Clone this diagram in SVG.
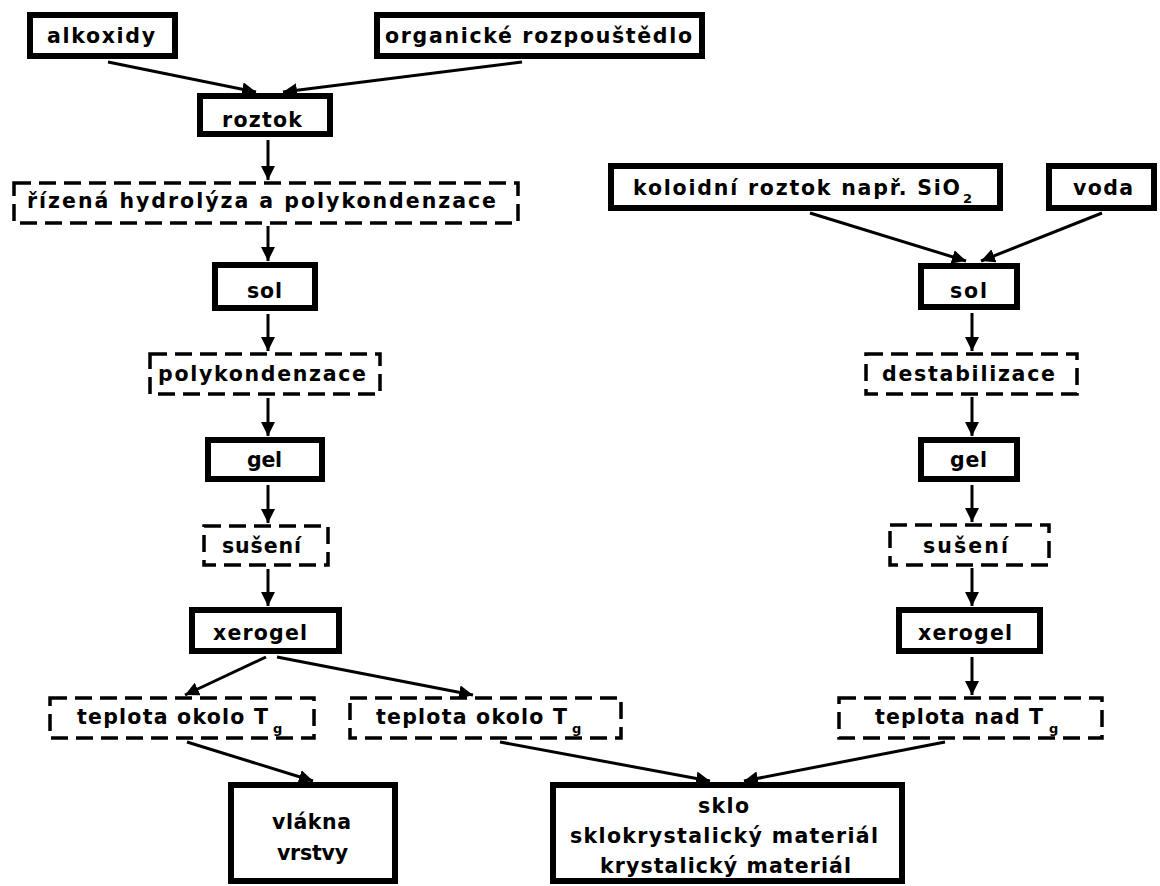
<svg xmlns="http://www.w3.org/2000/svg" width="1160" height="886" viewBox="0 0 1160 886">
<style>
.box{fill:#fff;stroke:#000;stroke-width:6}
.dbox{fill:#fff;stroke:#000;stroke-width:3.5;stroke-dasharray:17 8}
.t{font-family:"DejaVu Sans",sans-serif;font-size:20.5px;font-weight:bold;fill:#000}
.sub{font-size:13px}
.c{stroke:#000;stroke-width:3;fill:none;marker-end:url(#ah)}
</style>
<defs>
<marker id="ah" markerUnits="userSpaceOnUse" markerWidth="14" markerHeight="14" viewBox="0 0 12 12" refX="12" refY="6" orient="auto"><path d="M0,0 L12,6 L0,12 z" fill="#000"/></marker>
</defs>
<rect width="1160" height="886" fill="#fff"/>
<g id="connectors">
<line class="c" x1="108" y1="62" x2="256" y2="92"/>
<line class="c" x1="522" y1="62" x2="283" y2="92"/>
<line class="c" x1="268" y1="140" x2="268" y2="180"/>
<line class="c" x1="268" y1="226" x2="268" y2="261"/>
<line class="c" x1="268" y1="314" x2="268" y2="351"/>
<line class="c" x1="268" y1="398" x2="268" y2="436"/>
<line class="c" x1="268" y1="485" x2="268" y2="523"/>
<line class="c" x1="268" y1="569" x2="268" y2="606"/>
<line class="c" x1="266" y1="657" x2="185" y2="695"/>
<line class="c" x1="277" y1="657" x2="473" y2="695"/>
<line class="c" x1="187" y1="742" x2="313" y2="781"/>
<line class="c" x1="500" y1="742" x2="710" y2="781"/>
<line class="c" x1="945" y1="742" x2="744" y2="781"/>
<line class="c" x1="810" y1="213" x2="966" y2="261"/>
<line class="c" x1="1102" y1="213" x2="981" y2="261"/>
<line class="c" x1="972" y1="313" x2="972" y2="351"/>
<line class="c" x1="972" y1="397" x2="972" y2="436"/>
<line class="c" x1="972" y1="485" x2="972" y2="522"/>
<line class="c" x1="972" y1="568" x2="972" y2="606"/>
<line class="c" x1="972" y1="657" x2="972" y2="695"/>
</g>
<g id="alkoxidy"><rect class="box" x="30" y="15" width="145" height="41"/><text class="t" x="47" y="43" textLength="108" lengthAdjust="spacing">alkoxidy</text></g>
<g id="organicke"><rect class="box" x="377" y="15" width="325" height="41"/><text class="t" x="385" y="43" textLength="307" lengthAdjust="spacing">organické rozpouštědlo</text></g>
<g id="roztok"><rect class="box" x="200" y="96" width="130" height="38"/><text class="t" x="222" y="127" textLength="80" lengthAdjust="spacing">roztok</text></g>
<g id="hydrolyza"><rect class="dbox" x="14" y="183" width="504" height="40"/><text class="t" x="27" y="208" textLength="469" lengthAdjust="spacing">řízená hydrolýza a polykondenzace</text></g>
<g id="sol-l"><rect class="box" x="215" y="265" width="100" height="43"/><text class="t" x="247" y="298" textLength="35" lengthAdjust="spacing">sol</text></g>
<g id="polykondenzace"><rect class="dbox" x="150" y="354" width="230" height="40"/><text class="t" x="158" y="381" textLength="208" lengthAdjust="spacing">polykondenzace</text></g>
<g id="gel-l"><rect class="box" x="208" y="440" width="114" height="39"/><text class="t" x="247" y="467" textLength="35" lengthAdjust="spacing">gel</text></g>
<g id="suseni-l"><rect class="dbox" x="204" y="526" width="124" height="39"/><text class="t" x="222" y="553" textLength="79" lengthAdjust="spacing">sušení</text></g>
<g id="xerogel-l"><rect class="box" x="192" y="610" width="147" height="41"/><text class="t" x="213" y="640" textLength="94" lengthAdjust="spacing">xerogel</text></g>
<g id="teplota-l"><rect class="dbox" x="50" y="698" width="264" height="40"/><text class="t" x="77" y="724"><tspan textLength="191" lengthAdjust="spacing">teplota okolo T</tspan><tspan class="sub" x="273" y="733">g</tspan></text></g>
<g id="teplota-m"><rect class="dbox" x="350" y="698" width="271" height="40"/><text class="t" x="376" y="724"><tspan textLength="191" lengthAdjust="spacing">teplota okolo T</tspan><tspan class="sub" x="572" y="733">g</tspan></text></g>
<g id="vlakna"><rect class="box" x="231" y="785" width="164" height="96"/><text class="t" x="272" y="829" textLength="79" lengthAdjust="spacing">vlákna</text><text class="t" x="277" y="860" textLength="71" lengthAdjust="spacing">vrstvy</text></g>
<g id="sklo"><rect class="box" x="553" y="785" width="349" height="96"/><text class="t" x="698" y="813" textLength="51" lengthAdjust="spacing">sklo</text><text class="t" x="570" y="843" textLength="308" lengthAdjust="spacing">sklokrystalický materiál</text><text class="t" x="600" y="873" textLength="251" lengthAdjust="spacing">krystalický materiál</text></g>
<g id="koloidni"><rect class="box" x="611" y="166" width="389" height="42"/><text class="t" x="633" y="195"><tspan textLength="327" lengthAdjust="spacing">koloidní roztok např. SiO</tspan><tspan class="sub" x="963" y="203">2</tspan></text></g>
<g id="voda"><rect class="box" x="1049" y="166" width="105" height="42"/><text class="t" x="1073" y="195" textLength="60" lengthAdjust="spacing">voda</text></g>
<g id="sol-r"><rect class="box" x="921" y="266" width="96" height="41"/><text class="t" x="950" y="298" textLength="37" lengthAdjust="spacing">sol</text></g>
<g id="destabilizace"><rect class="dbox" x="866" y="354" width="211" height="40"/><text class="t" x="882" y="381" textLength="173" lengthAdjust="spacing">destabilizace</text></g>
<g id="gel-r"><rect class="box" x="921" y="440" width="96" height="39"/><text class="t" x="950" y="467" textLength="37" lengthAdjust="spacing">gel</text></g>
<g id="suseni-r"><rect class="dbox" x="890" y="525" width="159" height="40"/><text class="t" x="923" y="553" textLength="85" lengthAdjust="spacing">sušení</text></g>
<g id="xerogel-r"><rect class="box" x="899" y="610" width="141" height="41"/><text class="t" x="918" y="640" textLength="94" lengthAdjust="spacing">xerogel</text></g>
<g id="teplota-nad"><rect class="dbox" x="839" y="698" width="263" height="40"/><text class="t" x="875" y="724"><tspan textLength="168" lengthAdjust="spacing">teplota nad T</tspan><tspan class="sub" x="1049" y="733">g</tspan></text></g>
</svg>
